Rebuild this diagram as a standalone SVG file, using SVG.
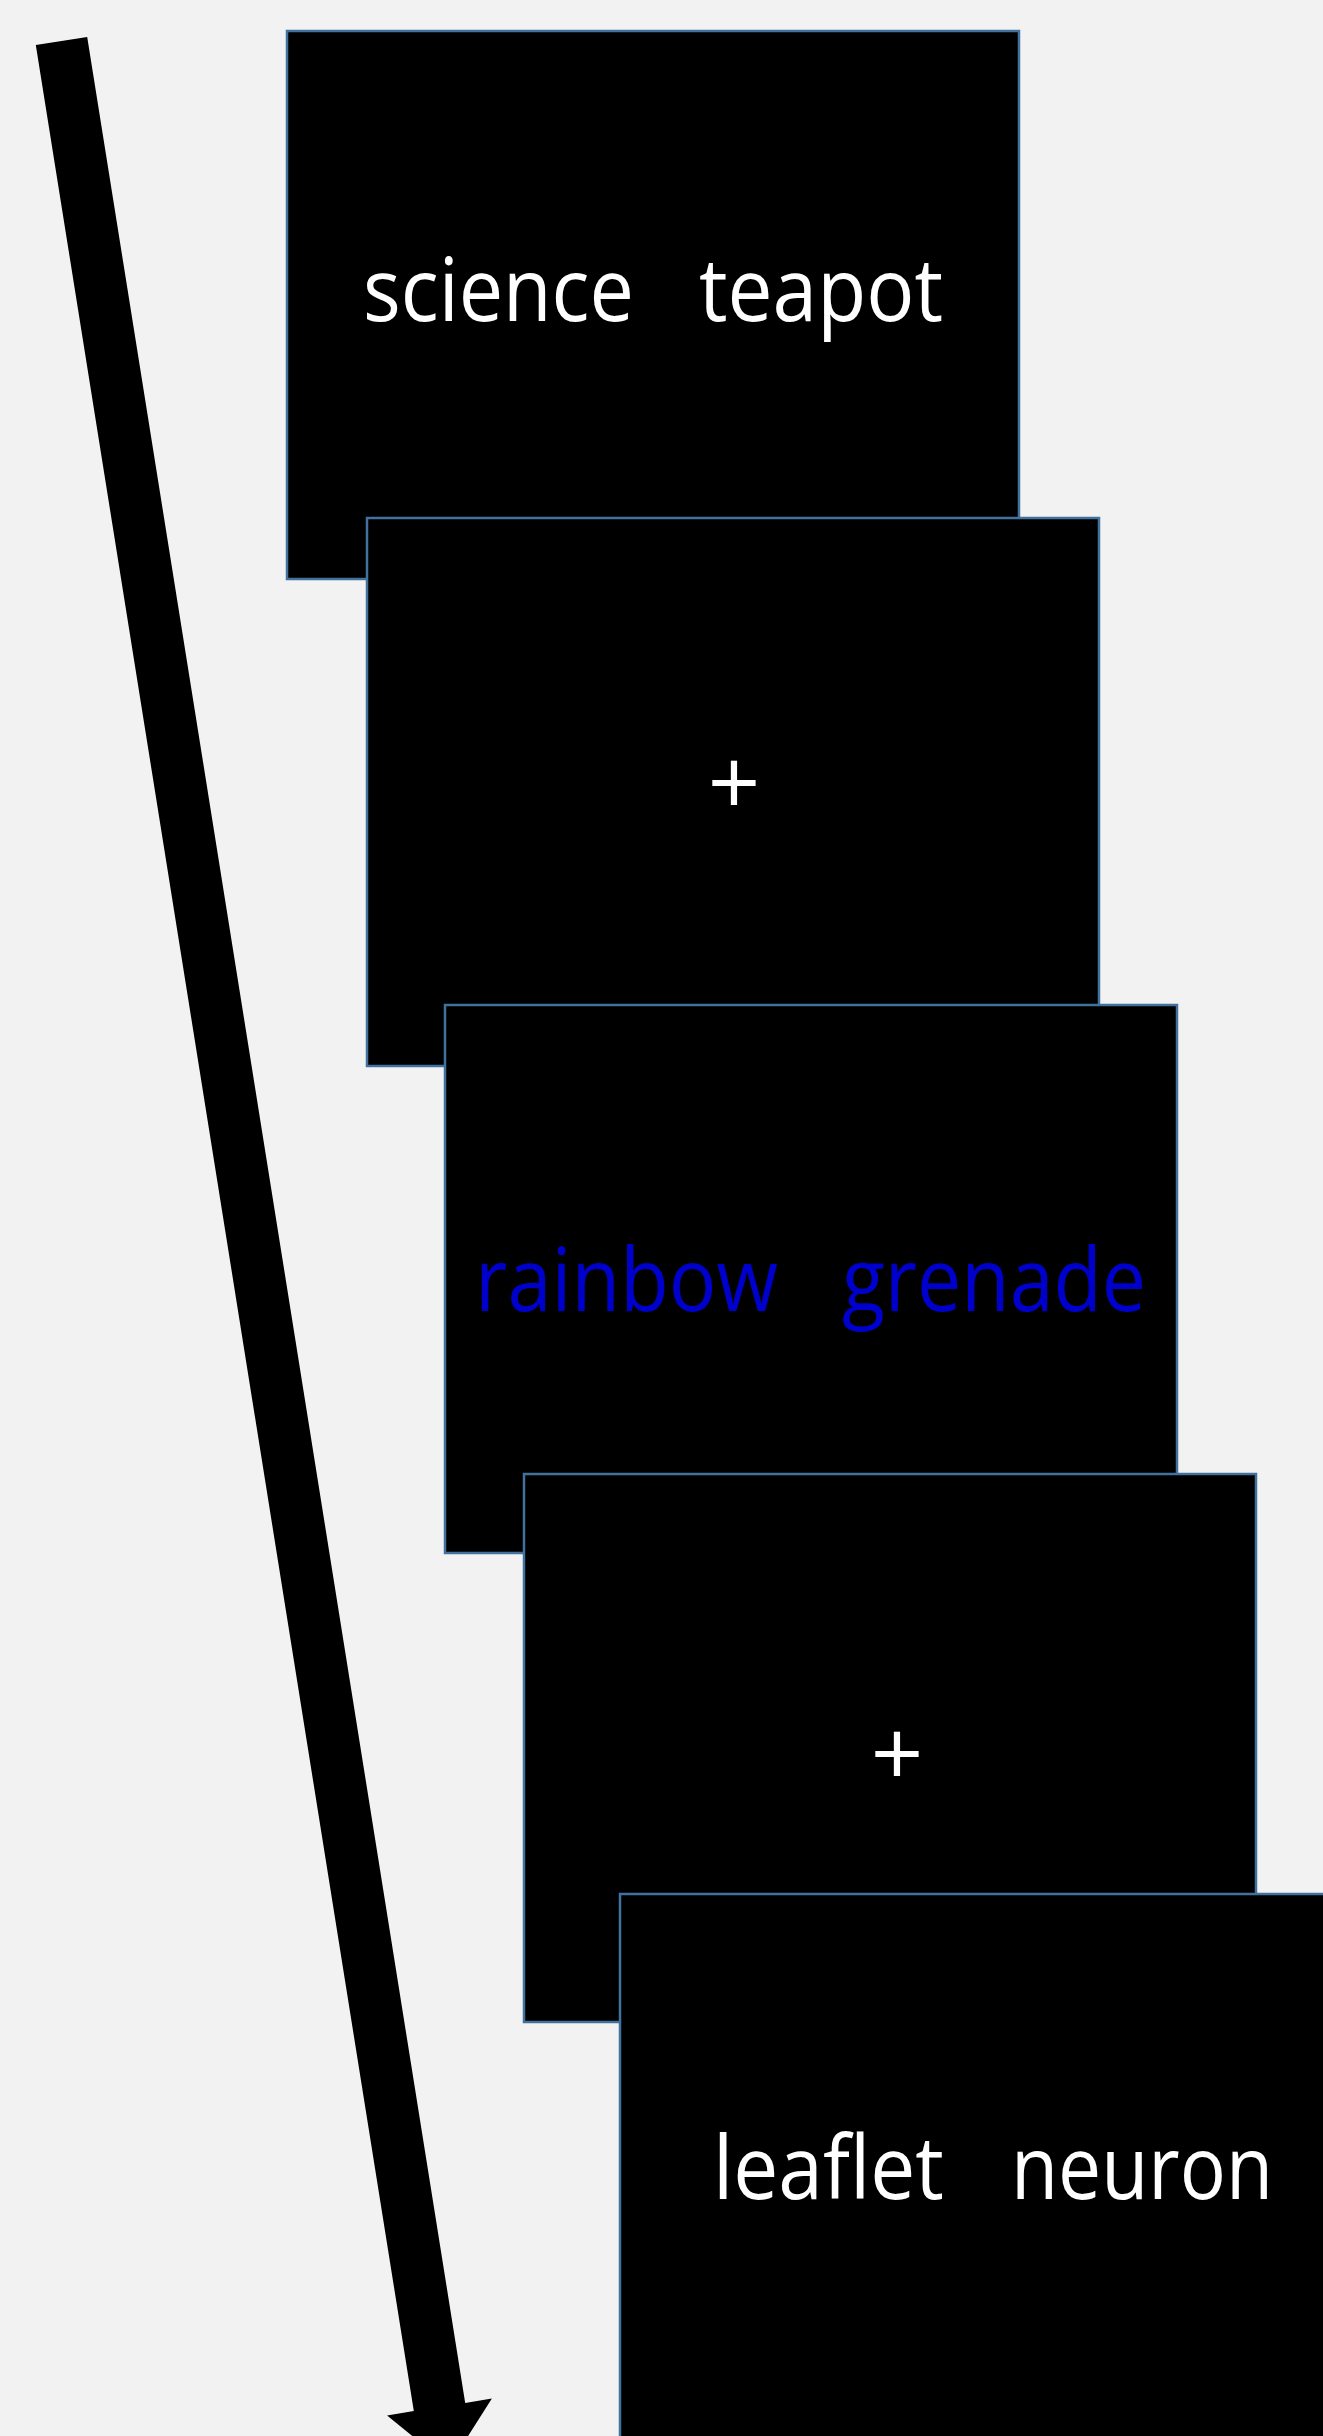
<svg xmlns="http://www.w3.org/2000/svg" width="1323" height="2436" viewBox="0 0 1323 2436">
<style>
.box{fill:#000;stroke:#41719C;stroke-width:2.5}
.w{fill:#fff;font-family:"Open Sans","Noto Sans",sans-serif;font-size:88px}
.b{fill:#0000CC;font-family:"Open Sans","Noto Sans",sans-serif;font-size:88px}
.p{fill:#fff;font-family:"Open Sans","Noto Sans",sans-serif;font-size:92px}
</style>
<rect width="1323" height="2436" fill="#F2F2F2"/>
<g id="connectors">
<polygon points="35.8,45.1 87.2,36.9 465.2,2402.9 491.9,2398.6 449,2466 387.1,2415.4 413.8,2411.1" fill="#000"/>
</g>
<g id="node1">
<rect class="box" x="287" y="31" width="732" height="548"/>
<text class="w" x="363" y="321" textLength="271" lengthAdjust="spacingAndGlyphs">science</text>
<text class="w" x="699" y="321" textLength="244" lengthAdjust="spacingAndGlyphs">teapot</text>
</g>
<g id="node2">
<rect class="box" x="367" y="518" width="732" height="548"/>
<text class="p" x="734" y="815" text-anchor="middle">+</text>
</g>
<g id="node3">
<rect class="box" x="445" y="1005" width="732" height="548"/>
<text class="b" x="475" y="1311" textLength="303" lengthAdjust="spacingAndGlyphs">rainbow</text>
<text class="b" x="842" y="1311" textLength="304" lengthAdjust="spacingAndGlyphs">grenade</text>
</g>
<g id="node4">
<rect class="box" x="524" y="1474" width="732" height="548"/>
<text class="p" x="897" y="1786" text-anchor="middle">+</text>
</g>
<g id="node5">
<rect class="box" x="620" y="1894" width="760" height="600"/>
<text class="w" x="713" y="2199" textLength="231" lengthAdjust="spacingAndGlyphs">leaflet</text>
<text class="w" x="1011" y="2199" textLength="262" lengthAdjust="spacingAndGlyphs">neuron</text>
</g>
</svg>
